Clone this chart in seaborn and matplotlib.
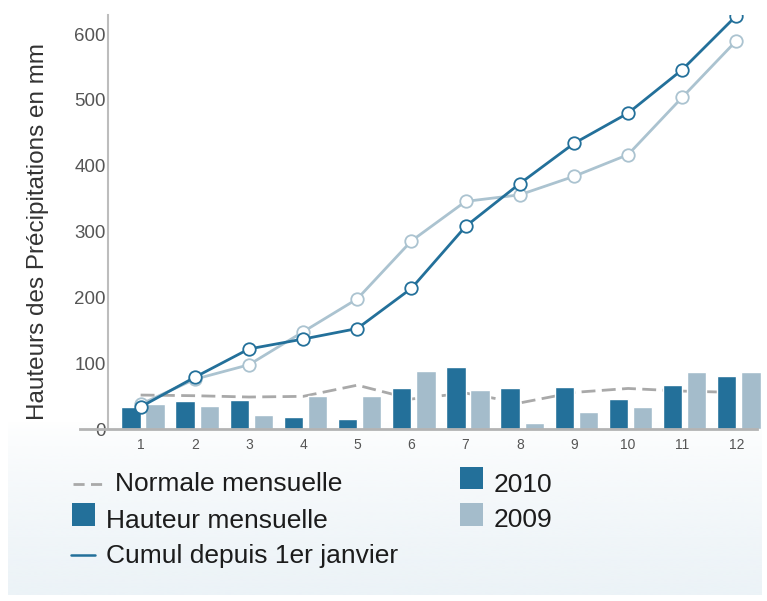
import numpy as np
import pandas as pd
import seaborn as sns
import matplotlib.pyplot as plt
from matplotlib.lines import Line2D
from matplotlib.patches import Rectangle

# Monthly rainfall (mm) and cumulative totals since 1 January
months = list(range(1, 13))
rain_2010 = [34, 43, 45, 18, 15, 62, 94, 63, 64, 46, 67, 81]
rain_2009 = [38, 36, 22, 51, 51, 88, 59, 10, 27, 34, 87, 87]
cumul_2010 = [34, 79, 122, 137, 153, 214, 308, 373, 434, 480, 546, 628]
cumul_2009 = [38, 76, 98, 148, 198, 286, 346, 356, 384, 417, 504, 590]
normale = [52, 51, 49, 50, 67, 46, 55, 40, 56, 62, 58, 56]
years = ["2010", "2009"]
y_ticks = [0, 100, 200, 300, 400, 500, 600]

DARK = "#23709a"
LIGHT = "#a4bccb"
LIGHT_LINE = "#abc3d0"
GREY = "#a9a9a9"

sns.set_theme(style="white")
plt.rcParams["font.family"] = ["Liberation Sans", "DejaVu Sans"]

W, H = 767, 601
fig = plt.figure(figsize=(W / 100, H / 100), dpi=100)
fig.patch.set_facecolor("white")

# soft gradient panel behind the lower part of the figure
bg = fig.add_axes([0, 0, 1, 1], zorder=-10)
bg.set_xlim(0, W)
bg.set_ylim(H, 0)
bg.axis("off")
n = 256
grad = np.zeros((n, 1, 4))
rgb = np.array([236, 243, 247]) / 255
grad[:, 0, :3] = rgb
grad[:, 0, 3] = np.linspace(0, 1, n) ** 0.7
bg.imshow(grad, extent=[8, 762, 595, 422], aspect="auto", interpolation="bilinear")

# plotting area
x0, x1 = 108.3, 760.5
y_top, y_bot = 15.0, 429.3
ax = fig.add_axes([x0 / W, (H - y_bot) / H, (x1 - x0) / W, (y_bot - y_top) / H])
ax.patch.set_alpha(0)

df = pd.DataFrame({
    "mois": months * 2,
    "annee": [years[0]] * 12 + [years[1]] * 12,
    "hauteur": rain_2010 + rain_2009,
})
sns.barplot(data=df, x="mois", y="hauteur", hue="annee", hue_order=years,
            palette={years[0]: DARK, years[1]: LIGHT}, width=0.892, gap=0.2,
            saturation=1, errorbar=None, legend=False, ax=ax, zorder=2)

# month ticks sit on the right edge of each 2010 bar
xpos = np.arange(12) - 0.045

sns.lineplot(x=xpos, y=normale, ax=ax, color=GREY, lw=2.0,
             linestyle=(0, (5, 2.3)), zorder=1.5)
sns.lineplot(x=xpos, y=cumul_2009, ax=ax, color=LIGHT_LINE, lw=2.0,
             marker="o", markersize=9, markerfacecolor="white",
             markeredgecolor=LIGHT_LINE, markeredgewidth=1.3, zorder=3)
sns.lineplot(x=xpos, y=cumul_2010, ax=ax, color=DARK, lw=2.0,
             marker="o", markersize=9, markerfacecolor="white",
             markeredgecolor=DARK, markeredgewidth=1.3, zorder=4)

ax.set_xlim(-0.642, 11.40)
ax.set_ylim(0, 629)
ax.set_xticks(xpos)
ax.set_xticklabels([str(m) for m in months], fontsize=10, color="#555555")
ax.set_yticks(y_ticks)
ax.set_yticklabels([str(v) for v in y_ticks], fontsize=13.5, color="#555555")
ax.tick_params(axis="x", length=0, pad=6)
ax.tick_params(axis="y", direction="in", length=5, width=1, color="#bbbbbb", pad=2)
ax.set_xlabel("")
ax.set_ylabel("")

for s in ("top", "right"):
    ax.spines[s].set_visible(False)
ax.spines["left"].set_color("#bdbdbd")
ax.spines["left"].set_linewidth(1.5)
ax.spines["bottom"].set_color("#b3b3b3")
ax.spines["bottom"].set_linewidth(2)
ax.spines["bottom"].set_bounds(-1.164, 11.335)

fig.text(38 / W, 1 - 232 / H, "Hauteurs des Précipitations en mm", rotation=90,
         ha="center", va="center", fontsize=17.5, color="#333333")

# legend, drawn in figure pixel units on the background axes
TXT = "#1c1c1c"
FS = 19
bg.add_line(Line2D([73.3, 106.7], [484, 484], color=GREY, lw=2.0,
                   linestyle=(0, (4, 2.3))))
bg.text(115, 491, "Normale mensuelle", fontsize=FS, color=TXT, va="baseline")
bg.add_patch(Rectangle((71.7, 503.3), 23.3, 22.7, color=DARK, lw=0))
bg.text(106.5, 527.7, "Hauteur mensuelle", fontsize=FS, color=TXT, va="baseline")
bg.add_line(Line2D([70.7, 95], [555, 555], color=DARK, lw=1.8))
bg.text(106, 563.3, "Cumul depuis 1er janvier", fontsize=FS, color=TXT, va="baseline")
bg.add_patch(Rectangle((460, 466.7), 23.3, 22.7, color=DARK, lw=0))
bg.text(494, 491.5, years[0], fontsize=FS, color=TXT, va="baseline")
bg.add_patch(Rectangle((460, 502.7), 23.3, 23.3, color=LIGHT, lw=0))
bg.text(494, 527.3, years[1], fontsize=FS, color=TXT, va="baseline")

fig.savefig("out.png", dpi=100)
